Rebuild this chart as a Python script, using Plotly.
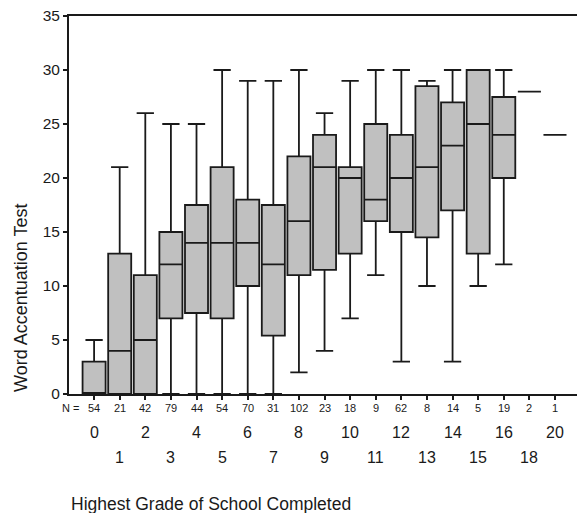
import plotly.graph_objects as go

# Categories (highest grade completed) and sample sizes
grades = ["0", "1", "2", "3", "4", "5", "6", "7", "8", "9", "10", "11", "12", "13", "14", "15", "16", "18", "20"]
n_counts = [54, 21, 42, 79, 44, 54, 70, 31, 102, 23, 18, 9, 62, 8, 14, 5, 19, 2, 1]

# Box statistics (Word Accentuation Test)
lower = [0, 0, 0, 0, 0, 0, 0, 0, 2, 4, 7, 11, 3, 10, 3, 10, 12, 28, 24]
q1 = [0, 0, 0, 7, 7.5, 7, 10, 5.4, 11, 11.5, 13, 16, 15, 14.5, 17, 13, 20, 28, 24]
median = [0, 4, 5, 12, 14, 14, 14, 12, 16, 21, 20, 18, 20, 21, 23, 25, 24, 28, 24]
q3 = [3, 13, 11, 15, 17.5, 21, 18, 17.5, 22, 24, 21, 25, 24, 28.5, 27, 30, 27.5, 28, 24]
upper = [5, 21, 26, 25, 25, 30, 29, 29, 30, 26, 29, 30, 30, 29, 30, 30, 30, 28, 24]

y_ticks = [0, 5, 10, 15, 20, 25, 30, 35]

idx = list(range(len(grades)))
INK = "#1a1a1a"
FONT = "Arial, Liberation Sans, Helvetica, sans-serif"

fig = go.Figure()
fig.add_trace(go.Box(
    x=idx, q1=q1, median=median, q3=q3,
    lowerfence=lower, upperfence=upper,
    width=0.9, whiskerwidth=0.75,
    fillcolor="#c0c0c0",
    line=dict(color=INK, width=1.8),
    boxpoints=False, hoverinfo="skip", showlegend=False,
))

# grade label rows (alternating) and N row
annotations = []
for i, g in enumerate(grades):
    annotations.append(dict(
        x=i, xref="x", y=0, yref="paper", text=str(n_counts[i]),
        showarrow=False, yanchor="middle", yshift=-14,
        font=dict(size=11, color=INK, family=FONT)))
    annotations.append(dict(
        x=i, xref="x", y=0, yref="paper", text=g,
        showarrow=False, yanchor="middle",
        yshift=-38 if i % 2 == 0 else -63,
        font=dict(size=16, color=INK, family=FONT)))
annotations.append(dict(
    x=0, xref="paper", xshift=1, y=0, yref="paper", text="N =", showarrow=False,
    xanchor="center", yanchor="middle", yshift=-14,
    font=dict(size=11, color=INK, family=FONT)))
annotations.append(dict(
    x=0.0, xref="paper", y=0, yref="paper", xanchor="left", yanchor="middle",
    yshift=-110, text="Highest Grade of School Completed", showarrow=False,
    font=dict(size=17.5, color=INK, family=FONT)))
annotations.append(dict(
    x=0, xref="paper", xshift=-48, y=(394 - 298) / 378, yref="paper",
    text="Word Accentuation Test", textangle=-90, showarrow=False,
    xanchor="center", yanchor="middle",
    font=dict(size=18, color=INK, family=FONT)))

fig.update_layout(
    width=577, height=513,
    margin=dict(l=69, r=0, t=16, b=119),
    paper_bgcolor="white", plot_bgcolor="white",
    font=dict(family=FONT, color=INK),
    annotations=annotations,
    xaxis=dict(
        range=[-0.98, 18.86], tickvals=idx, showticklabels=False,
        ticks="outside", ticklen=4, tickwidth=1.5, tickcolor=INK,
        showline=True, linecolor=INK, linewidth=2, mirror=True,
        showgrid=False, zeroline=False,
    ),
    yaxis=dict(
        range=[0, 35], tickvals=y_ticks, ticktext=[str(v) for v in y_ticks],
        ticks="outside", ticklen=4, tickwidth=1.5, tickcolor=INK,
        showline=True, linecolor=INK, linewidth=2,
        showgrid=False, zeroline=False,
        tickfont=dict(size=15.5, color=INK, family=FONT),
    ),
)

fig.write_html(
    "out.html",
    config={"displayModeBar": False},
    post_script="document.body.style.margin='0';document.body.style.overflow='hidden';",
)
